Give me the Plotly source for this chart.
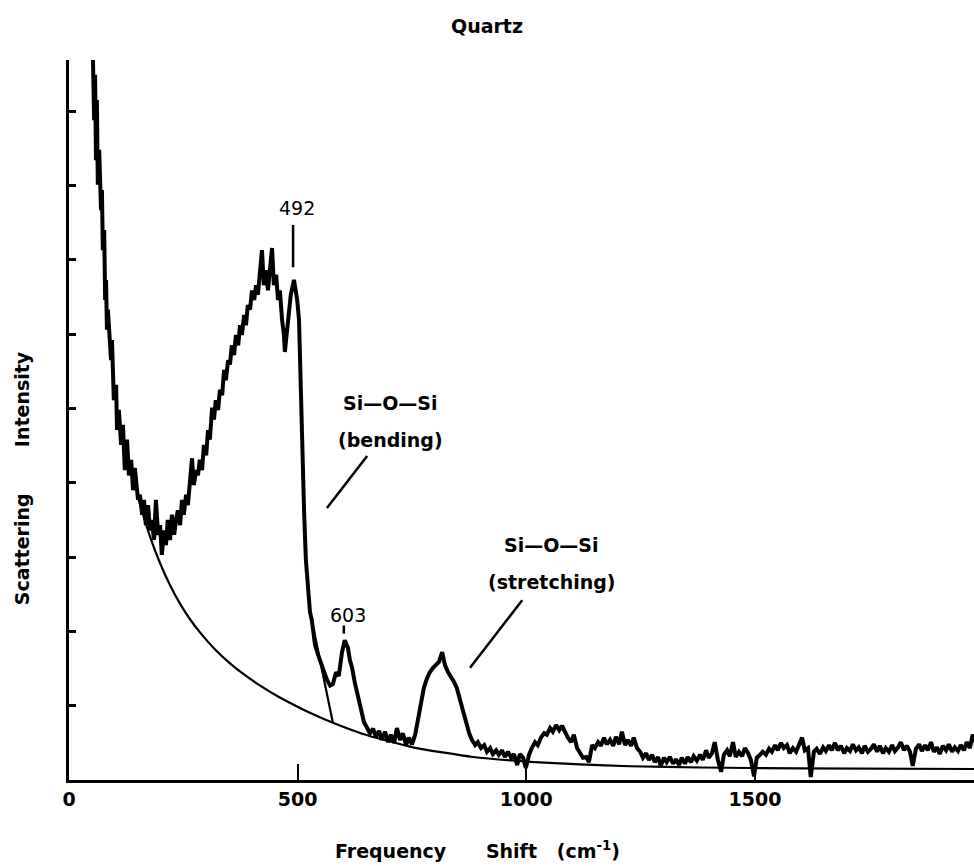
import plotly.graph_objects as go

# ---- data (x in cm^-1, y in arbitrary intensity units; y ticks every 1 unit) ----
spec_x = [52, 55, 57, 59, 61, 63, 66, 68, 70, 72, 74, 77, 79, 81, 83, 85, 90, 92, 94, 96, 98,
          103, 105, 109, 114, 118, 122, 127, 131, 136, 140, 144, 151, 155, 160, 164, 168, 173,
          177, 181, 186, 190, 195, 199, 203, 208, 212, 216, 221, 225, 230, 234, 238, 243, 247,
          251, 256, 260, 265, 269, 273, 278, 282, 286, 291, 295, 300, 304, 308, 313, 317, 321,
          326, 330, 335, 339, 343, 348, 352, 356, 361, 365, 370, 374, 378, 383, 387, 391, 396,
          400, 405, 409, 413, 418, 422, 426, 431, 435, 440, 444, 448, 453, 457, 461, 466, 470,
          472, 477, 481, 485, 492, 494, 499, 503, 505, 510, 512, 514, 518, 523, 527, 531, 534,
          538, 545, 551, 558, 564, 571, 577, 584, 590, 597, 603, 606, 610, 614, 619, 625, 632,
          639, 645, 652, 658, 665, 671, 678, 684, 691, 698, 704, 711, 717, 724, 730, 737, 743,
          750, 757, 763, 770, 776, 783, 789, 796, 803, 809, 816, 822, 829, 835, 842, 848, 855,
          862, 868, 875, 881, 888, 894, 901, 908, 914, 921, 927, 934, 940, 947, 953, 960, 967,
          973, 980, 986, 993, 999,
          1006, 1012, 1019, 1025, 1032, 1039, 1045, 1052, 1058, 1065, 1072, 1078, 1085, 1091,
          1098, 1104, 1111, 1117, 1124, 1131, 1137, 1144, 1150, 1157, 1163, 1170, 1176, 1183,
          1190, 1196, 1203, 1209, 1216, 1222, 1229, 1235, 1242, 1249, 1255, 1262, 1268, 1275,
          1281, 1288, 1294, 1301, 1307, 1314, 1321, 1327, 1334, 1340, 1347, 1353, 1360, 1366,
          1373, 1380, 1386, 1393, 1399, 1406, 1412, 1419, 1426, 1432, 1439, 1445, 1452, 1458,
          1465, 1472, 1478, 1485, 1491, 1498, 1504, 1511, 1517, 1524, 1531, 1537, 1544, 1550,
          1557, 1563, 1570, 1576, 1583, 1590, 1596, 1603, 1609, 1616, 1622, 1629, 1635, 1642,
          1649, 1655, 1662, 1668, 1675, 1681, 1688, 1695, 1701, 1708, 1714, 1721, 1727, 1734,
          1740, 1747, 1754, 1760, 1767, 1773, 1780, 1786, 1793, 1800, 1806, 1813, 1819, 1826,
          1832, 1839, 1845, 1852, 1859, 1865, 1872, 1878, 1885, 1891, 1898, 1904, 1911, 1918,
          1924, 1931, 1937, 1944, 1950, 1957, 1963, 1970, 1976, 1985]
spec_y = [9.83, 8.88, 9.49, 8.34, 9.15, 8.01, 8.48, 7.94, 7.67, 7.94, 7.13, 7.40, 6.46, 6.73,
          6.06, 6.33, 5.85, 5.65, 5.92, 5.38, 5.11, 5.32, 4.71, 4.98, 4.51, 4.78, 4.17, 4.58,
          4.10, 4.31, 3.90, 4.20, 3.77, 3.84, 3.57, 3.77, 3.43, 3.70, 3.36, 3.50, 3.23, 3.77,
          3.30, 3.43, 3.03, 3.36, 3.16, 3.50, 3.23, 3.57, 3.30, 3.50, 3.63, 3.43, 3.77, 3.57,
          3.84, 3.70, 4.04, 4.33, 3.97, 4.17, 4.10, 4.31, 4.17, 4.51, 4.37, 4.71, 4.58, 5.01,
          4.85, 5.11, 4.98, 5.25, 5.18, 5.52, 5.38, 5.65, 5.59, 5.85, 5.72, 5.99, 5.85, 6.12,
          5.99, 6.26, 6.12, 6.39, 6.33, 6.59, 6.46, 6.66, 6.53, 6.80, 7.13, 6.66, 6.86, 6.59,
          6.93, 7.16, 6.66, 6.80, 6.46, 6.59, 6.19, 5.99, 5.76, 6.06, 6.19, 6.53, 6.73, 6.66,
          6.46, 6.19, 5.65, 4.85, 4.17, 3.63, 2.96, 2.56, 2.26, 2.15, 2.02, 1.82, 1.68, 1.59,
          1.45, 1.35, 1.27, 1.29, 1.45, 1.40, 1.72, 1.88, 1.82, 1.78, 1.62, 1.51, 1.31, 1.12,
          0.94, 0.78, 0.70, 0.63, 0.69, 0.58, 0.66, 0.54, 0.65, 0.51, 0.61, 0.50, 0.70, 0.54,
          0.63, 0.47, 0.57, 0.48, 0.61, 0.81, 1.08, 1.24, 1.37, 1.45, 1.51, 1.56, 1.59, 1.72,
          1.55, 1.45, 1.40, 1.32, 1.24, 1.08, 0.92, 0.78, 0.63, 0.54, 0.47, 0.51, 0.43, 0.47,
          0.38, 0.43, 0.35, 0.40, 0.34, 0.40, 0.31, 0.38, 0.30, 0.35, 0.20, 0.35, 0.30, 0.16,
          0.34, 0.43, 0.51, 0.47, 0.57, 0.63, 0.61, 0.70, 0.65, 0.74, 0.67, 0.73, 0.63, 0.57,
          0.51, 0.61, 0.43, 0.38, 0.30, 0.31, 0.24, 0.47, 0.43, 0.51, 0.46, 0.57, 0.48, 0.54,
          0.46, 0.58, 0.48, 0.65, 0.47, 0.54, 0.46, 0.57, 0.43, 0.38, 0.30, 0.36, 0.27, 0.34,
          0.24, 0.31, 0.19, 0.30, 0.24, 0.31, 0.22, 0.28, 0.20, 0.30, 0.22, 0.31, 0.24, 0.32,
          0.26, 0.34, 0.27, 0.40, 0.30, 0.36, 0.51, 0.27, 0.11, 0.34, 0.40, 0.32, 0.51, 0.31,
          0.38, 0.32, 0.43, 0.36, 0.27, 0.05, 0.30, 0.34, 0.38, 0.34, 0.42, 0.38, 0.47, 0.40,
          0.50, 0.43, 0.47, 0.36, 0.43, 0.38, 0.46, 0.57, 0.40, 0.43, 0.04, 0.38, 0.42, 0.35,
          0.44, 0.39, 0.47, 0.40, 0.50, 0.40, 0.46, 0.36, 0.43, 0.39, 0.48, 0.40, 0.44, 0.36,
          0.46, 0.38, 0.42, 0.48, 0.38, 0.46, 0.36, 0.43, 0.38, 0.47, 0.39, 0.44, 0.51, 0.40,
          0.46, 0.38, 0.19, 0.42, 0.48, 0.39, 0.47, 0.40, 0.51, 0.38, 0.44, 0.35, 0.46, 0.40,
          0.48, 0.38, 0.44, 0.39, 0.47, 0.40, 0.51, 0.43, 0.61, 0.47]

# smooth background curve
base_x = [144, 155, 177, 199, 221, 243, 265, 286, 319, 352, 385, 418, 461, 505, 534, 577, 643,
          752, 883, 1008, 1117, 1227, 1380, 1598, 1979]
base_y = [4.00, 3.72, 3.28, 2.92, 2.62, 2.37, 2.16, 1.99, 1.76, 1.57, 1.41, 1.27, 1.11, 0.97,
          0.885, 0.77, 0.62, 0.44, 0.31, 0.245, 0.21, 0.185, 0.168, 0.156, 0.148]

# guide line separating the bending band from the background
guide_x = [534, 577]
guide_y = [2.06, 0.77]

x_ticks = [0, 500, 1000, 1500]
x_tick_labels = ["0", "500", "1000", "1500"]
y_ticks = [1, 2, 3, 4, 5, 6, 7, 8, 9]

peak_labels = ["492", "603"]

X_RANGE = [0, 1979]
Y_RANGE = [0, 9.69]

BLACK = "black"
FONT = "DejaVu Sans"

fig = go.Figure()
fig.add_trace(go.Scatter(x=base_x, y=base_y, mode="lines",
                         line=dict(color=BLACK, width=2.2, shape="spline", smoothing=0.5),
                         hoverinfo="skip"))
fig.add_trace(go.Scatter(x=guide_x, y=guide_y, mode="lines", line=dict(color=BLACK, width=2.2),
                         hoverinfo="skip"))
fig.add_trace(go.Scatter(x=spec_x, y=spec_y, mode="lines", line=dict(color=BLACK, width=4)))

# peak markers
fig.add_trace(go.Scatter(x=[490, 490], y=[6.90, 7.47], mode="lines", line=dict(color=BLACK, width=2.5), hoverinfo="skip"))
fig.add_trace(go.Scatter(x=[601, 601], y=[1.97, 2.08], mode="lines", line=dict(color=BLACK, width=2.5), hoverinfo="skip"))
# pointer lines
fig.add_trace(go.Scatter(x=[564, 652], y=[3.66, 4.36], mode="lines", line=dict(color=BLACK, width=2.5), hoverinfo="skip"))
fig.add_trace(go.Scatter(x=[877, 991], y=[1.51, 2.42], mode="lines", line=dict(color=BLACK, width=2.5), hoverinfo="skip"))

annotations = [
    dict(x=499, y=7.70, text=peak_labels[0], font=dict(size=19, family=FONT, color=BLACK)),
    dict(x=610, y=2.22, text=peak_labels[1], font=dict(size=19, family=FONT, color=BLACK)),
    dict(x=702, y=5.07, text="Si—O—Si", font=dict(size=19, family=FONT, color=BLACK, weight="bold")),
    dict(x=702, y=4.58, text="(bending)", font=dict(size=19, family=FONT, color=BLACK, weight="bold")),
    dict(x=1056, y=3.16, text="Si—O—Si", font=dict(size=19, family=FONT, color=BLACK, weight="bold")),
    dict(x=1056, y=2.66, text="(stretching)", font=dict(size=19, family=FONT, color=BLACK, weight="bold")),
]
for a in annotations:
    a.update(xref="x", yref="y", showarrow=False, xanchor="center", yanchor="middle")

annotations.append(dict(xref="paper", yref="paper", x=0.451, y=-0.097, showarrow=False,
                        xanchor="center", yanchor="middle",
                        text="Frequency&nbsp;&nbsp;&nbsp;&nbsp;&nbsp; Shift&nbsp;&nbsp;&nbsp;(cm<sup>-1</sup>)",
                        font=dict(size=19, family=FONT, color=BLACK, weight="bold")))
annotations.append(dict(xref="paper", yref="paper", x=-0.052, y=0.419, showarrow=False,
                        xanchor="center", yanchor="middle", textangle=-90,
                        text="Scattering&nbsp;&nbsp;&nbsp;&nbsp;&nbsp;&nbsp; Intensity",
                        font=dict(size=19, family=FONT, color=BLACK, weight="bold")))

fig.update_layout(
    width=974, height=866,
    margin=dict(l=69, r=0, t=60, b=86),
    paper_bgcolor="white", plot_bgcolor="white",
    showlegend=False,
    title=dict(text="Quartz", x=0.5, xref="container", y=1 - 26 / 866, yref="container",
               xanchor="center", yanchor="middle",
               font=dict(size=19, family=FONT, color=BLACK, weight="bold")),
    annotations=annotations,
)
fig.update_xaxes(range=X_RANGE, showgrid=False, zeroline=False, showline=True, linecolor=BLACK,
                 linewidth=3, tickmode="array", tickvals=x_ticks, ticktext=x_tick_labels,
                 ticks="inside", ticklen=16, tickwidth=2, tickcolor=BLACK,
                 tickfont=dict(size=19, family=FONT, color=BLACK, weight="bold"))
fig.update_yaxes(range=Y_RANGE, showgrid=False, zeroline=False, showline=True, linecolor=BLACK,
                 linewidth=3, tickmode="array", tickvals=y_ticks, showticklabels=False,
                 ticks="inside", ticklen=7, tickwidth=3, tickcolor=BLACK)

fig.write_html("out.html")
